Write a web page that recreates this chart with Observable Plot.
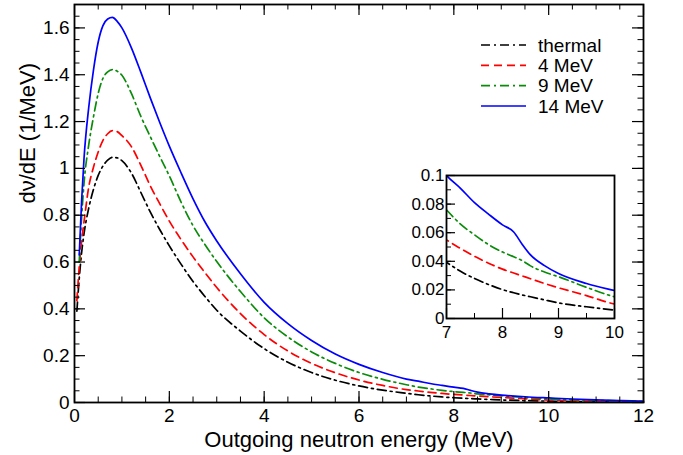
<!DOCTYPE html>
<html><head><meta charset="utf-8">
<script src="https://cdn.jsdelivr.net/npm/d3@7"></script>
<script src="https://cdn.jsdelivr.net/npm/@observablehq/plot@0.6"></script>
<style>
body{margin:0;background:#fff;}
#wrap{position:relative;width:683px;height:455px;font-family:"Liberation Sans",Arial,sans-serif;}
#wrap > svg{position:absolute;}
</style></head><body><div id="wrap"></div>
<script>
// Outgoing neutron energy grid (MeV)
const energy = [0.05, 0.1, 0.15, 0.2, 0.3, 0.4, 0.5, 0.6, 0.7, 0.8, 0.9, 1.0, 1.2, 1.4, 1.6, 1.8, 2.0, 2.25, 2.5, 2.75, 3.0, 3.5, 4.0, 4.5, 5.0, 5.5, 6.0, 6.5, 7.0, 7.25, 7.5, 7.75, 8.0, 8.2, 8.35, 8.5, 8.75, 9.0, 9.5, 10, 10.5, 11, 11.5, 12];
// dν/dE (1/MeV) per incident energy
const thermal = [0.39, 0.53, 0.64, 0.72, 0.83, 0.91, 0.97, 1.01, 1.035, 1.047, 1.045, 1.033, 0.98, 0.897, 0.813, 0.738, 0.669, 0.59, 0.517, 0.453, 0.394, 0.305, 0.23, 0.172, 0.128, 0.0952, 0.0708, 0.0527, 0.0393, 0.033, 0.028, 0.0238, 0.0202, 0.018, 0.0165, 0.0152, 0.013, 0.0109, 0.0082, 0.0059, 0.0043, 0.0031, 0.0022, 0.0016];
const mev4 = [0.435, 0.58, 0.69, 0.77, 0.92, 1.005, 1.07, 1.12, 1.148, 1.161, 1.157, 1.14, 1.093, 1.013, 0.925, 0.848, 0.775, 0.695, 0.622, 0.555, 0.491, 0.38, 0.29, 0.22, 0.167, 0.127, 0.096, 0.0728, 0.055, 0.049, 0.0435, 0.0387, 0.0345, 0.0318, 0.0298, 0.0278, 0.0245, 0.0215, 0.016, 0.0101, 0.0072, 0.0052, 0.0037, 0.0027];
const mev9 = [null, 0.6, 0.79, 0.935, 1.10, 1.22, 1.32, 1.385, 1.412, 1.422, 1.415, 1.398, 1.32, 1.222, 1.135, 1.05, 0.968, 0.855, 0.755, 0.675, 0.602, 0.474, 0.362, 0.28, 0.216, 0.167, 0.128, 0.099, 0.076, 0.066, 0.0585, 0.0517, 0.0465, 0.0432, 0.0405, 0.0368, 0.0325, 0.0292, 0.0218, 0.0152, 0.0118, 0.0090, 0.0068, 0.0052];
const mev14 = [null, 0.63, 0.86, 1.04, 1.26, 1.42, 1.54, 1.61, 1.638, 1.645, 1.628, 1.60, 1.515, 1.41, 1.30, 1.195, 1.095, 0.98, 0.87, 0.772, 0.69, 0.55, 0.428, 0.337, 0.265, 0.207, 0.163, 0.128, 0.10, 0.091, 0.081, 0.073, 0.0655, 0.0605, 0.052, 0.0445, 0.037, 0.0315, 0.0245, 0.0195, 0.015, 0.0115, 0.0085, 0.0062];

const seriesNames = ["thermal", "4 MeV", "9 MeV", "14 MeV"];
const seriesValues = [thermal, mev4, mev9, mev14];
const seriesColors = ["#000000", "#ff0000", "#0a8c0a", "#0000ff"];
const seriesDash = ["9,4,2,4", "8,5", "9,4,2,4", null];

const xMajor = [0, 2, 4, 6, 8, 10, 12];
const yMajor = [0, 0.2, 0.4, 0.6, 0.8, 1, 1.2, 1.4, 1.6];
const insetXMajor = [7, 8, 9, 10];
const insetYMajor = [0, 0.02, 0.04, 0.06, 0.08, 0.1];
const xTitle = "Outgoing neutron energy (MeV)";
const yTitle = "dν/dE (1/MeV)";

const FONT = "'Liberation Sans', Arial, sans-serif";
const wrap = document.getElementById("wrap");

function lineMarks(extra) {
  return seriesValues.map((vals, i) => Plot.line(
    energy.map((e, j) => ({E: e, v: vals[j]})).filter(d => d.v != null),
    {x: "E", y: "v", stroke: seriesColors[i], strokeWidth: 1.7, curve: "monotone-x",
     strokeDasharray: seriesDash[i], ...extra}));
}

// ---------- main chart ----------
const W = 683, H = 455, mL = 74, mR = 40, mT = 4, mB = 53;
const iw = W - mL - mR, ih = H - mT - mB;
const xMinor = d3.range(0, 12.001, 0.5);
const yMinor = d3.range(0, 1.7001, 0.05);
const main = Plot.plot({
  width: W, height: H, marginLeft: mL, marginRight: mR, marginTop: mT, marginBottom: mB,
  x: {domain: [0, 12]}, y: {domain: [0, 1.7]},
  style: {fontFamily: FONT, background: "white", color: "black"},
  marks: [
    ...lineMarks({}),
    Plot.tickX(xMinor, {x: d => d, insetTop: ih - 5.5, stroke: "black", strokeWidth: 1}),
    Plot.tickX(xMajor, {x: d => d, insetTop: ih - 11, stroke: "black", strokeWidth: 1.2}),
    Plot.tickX(xMinor, {x: d => d, insetBottom: ih - 5.5, stroke: "black", strokeWidth: 1}),
    Plot.tickX(xMajor, {x: d => d, insetBottom: ih - 11, stroke: "black", strokeWidth: 1.2}),
    Plot.tickY(yMinor, {y: d => d, insetRight: iw - 5.5, stroke: "black", strokeWidth: 1}),
    Plot.tickY(yMajor, {y: d => d, insetRight: iw - 11, stroke: "black", strokeWidth: 1.2}),
    Plot.tickY(yMinor, {y: d => d, insetLeft: iw - 5.5, stroke: "black", strokeWidth: 1}),
    Plot.tickY(yMajor, {y: d => d, insetLeft: iw - 11, stroke: "black", strokeWidth: 1.2}),
    Plot.frame({stroke: "black", strokeWidth: 1.8}),
    Plot.axisX({ticks: xMajor, tickSize: 0, tickPadding: 6, fontSize: 19, tickFormat: d => String(d), label: null}),
    Plot.axisY({ticks: yMajor, tickSize: 0, tickPadding: 5, fontSize: 19, tickFormat: d => String(d), label: null}),
    Plot.text([xTitle], {text: d => d, frameAnchor: "bottom", dy: 44, fontSize: 22, lineAnchor: "bottom"}),
    Plot.text([yTitle], {text: d => d, frameAnchor: "left", dx: -40, rotate: -90, fontSize: 22, lineAnchor: "bottom"})
  ]
});
main.style.left = "0px"; main.style.top = "0px";
wrap.appendChild(main);

// ---------- inset ----------
const IW = 240, IH = 200, imL = 46, imR = 26, imT = 20, imB = 37;
const iiw = IW - imL - imR, iih = IH - imT - imB;
const insetXMinor = d3.range(7, 10.001, 0.5);
const insetYMinor = d3.range(0, 0.1001, 0.01);
const inset = Plot.plot({
  width: IW, height: IH, marginLeft: imL, marginRight: imR, marginTop: imT, marginBottom: imB,
  x: {domain: [7, 10]}, y: {domain: [0, 0.1]},
  style: {fontFamily: FONT, background: "transparent", color: "black", overflow: "visible"},
  marks: [
    Plot.frame({fill: "white", stroke: null}),
    ...lineMarks({clip: true}),
    Plot.tickX(insetXMinor, {x: d => d, insetTop: iih - 5, stroke: "black", strokeWidth: 1}),
    Plot.tickX(insetXMajor, {x: d => d, insetTop: iih - 10, stroke: "black", strokeWidth: 1.2}),
    Plot.tickY(insetYMinor, {y: d => d, insetRight: iiw - 5, stroke: "black", strokeWidth: 1}),
    Plot.tickY(insetYMajor, {y: d => d, insetRight: iiw - 9, stroke: "black", strokeWidth: 1.2}),
    Plot.frame({stroke: "black", strokeWidth: 1.8}),
    Plot.axisX({ticks: insetXMajor, tickSize: 0, tickPadding: 7, fontSize: 17, tickFormat: d => String(d), label: null}),
    Plot.axisY({ticks: insetYMajor, tickSize: 0, tickPadding: 2, fontSize: 17, tickFormat: d => String(d), label: null})
  ]
});
inset.style.left = "400px"; inset.style.top = "155px";
wrap.appendChild(inset);

// ---------- legend ----------
const leg = d3.create("svg").attr("width", 683).attr("height", 455)
  .style("left", "0px").style("top", "0px").style("pointer-events", "none");
const rowY = [45, 65.3, 85.6, 106];
seriesNames.forEach((name, i) => {
  leg.append("line").attr("x1", 481).attr("x2", 526).attr("y1", rowY[i]).attr("y2", rowY[i])
    .attr("stroke", seriesColors[i]).attr("stroke-width", 1.7)
    .attr("stroke-dasharray", seriesDash[i]);
  leg.append("text").attr("x", 538).attr("y", rowY[i] + 6.8)
    .attr("font-family", FONT).attr("font-size", 19).attr("fill", "black").text(name);
});
wrap.appendChild(leg.node());
</script></body></html>
